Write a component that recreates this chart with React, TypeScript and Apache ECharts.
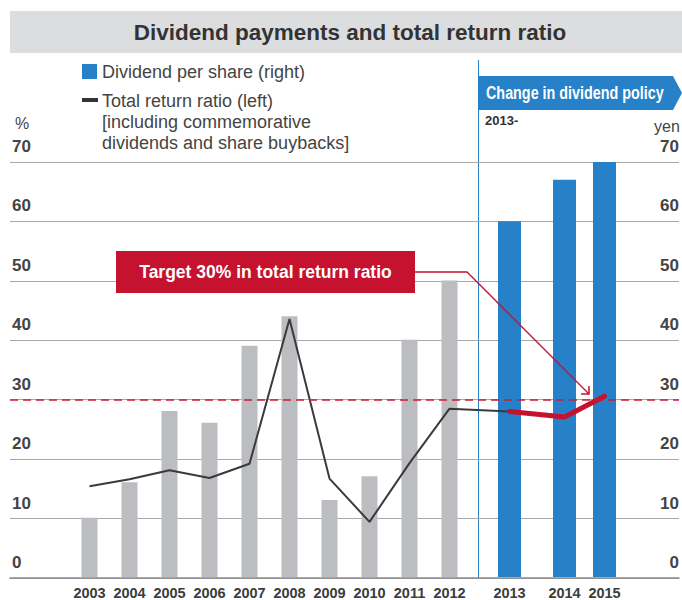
import React, { useEffect, useRef } from 'react';
import * as echarts from 'echarts';

// ---- data ----
const years = ['2003', '2004', '2005', '2006', '2007', '2008', '2009', '2010', '2011', '2012', '2013', '2014', '2015'];
// Dividend per share, yen (right axis)
const dividendPerShare = [10, 16, 28, 26, 39, 44, 13, 17, 40, 50, 60, 67, 70];
// Total return ratio, % (left axis)
const totalReturnRatio = [15.3, 16.5, 18, 16.7, 19.1, 43.5, 16.6, 9.3, 19.2, 28.4, 27.9, 27.0, 30.5];
const policyChangeIndex = 10; // 2013-
const axisTicks = [0, 10, 20, 30, 40, 50, 60, 70];
const targetRatio = 30;

// ---- layout: the year axis is made of fine slots; steps between consecutive years ----
const SLOT_STEPS = [8, 8, 8, 8, 8, 8, 8, 8, 8, 12, 11, 8];

const FONT = '"Liberation Sans", Arial, Helvetica, sans-serif';
const BLUE = '#2681c8';
const RED = '#c4122f';
const GRAY_BAR = '#bcbdc0';
const TEXT = '#3c3c3c';

export default function App() {
  const ref = useRef<HTMLDivElement>(null);

  useEffect(() => {
    if (!ref.current) return;
    const chart = echarts.init(ref.current, undefined, { renderer: 'svg' });

    const slotOf: number[] = [0];
    SLOT_STEPS.forEach((s, i) => slotOf.push(slotOf[i] + s));
    const slotCount = slotOf[slotOf.length - 1] + 1;
    const categories: string[] = Array.from({ length: slotCount }, () => '');
    years.forEach((y, i) => { categories[slotOf[i]] = y; });
    const spread = (pick: (i: number) => boolean, vals: number[]) => {
      const arr: (number | null)[] = Array.from({ length: slotCount }, () => null);
      vals.forEach((v, i) => { if (pick(i)) arr[slotOf[i]] = v; });
      return arr;
    };

    const yMin = axisTicks[0];
    const yMax = axisTicks[axisTicks.length - 1];
    const yInterval = axisTicks[1] - axisTicks[0];

    const tickLabel = {
      fontFamily: FONT,
      fontWeight: 'bold',
      fontSize: 17,
      color: '#444',
      verticalAlign: 'bottom',
      padding: [0, 0, 7, 0],
    };

    chart.setOption({
      animation: false,
      grid: [
        { left: 10, right: 0, top: 162, bottom: 22 },
        { left: 87, width: 520, top: 162, bottom: 22 },
      ],
      xAxis: [
        {
          gridIndex: 0, type: 'value', min: 0, max: 1,
          axisLine: { show: true, lineStyle: { color: '#8a8a8a', width: 1.5 } },
          axisTick: { show: false }, axisLabel: { show: false }, splitLine: { show: false },
        },
        {
          gridIndex: 1, type: 'category', data: categories,
          axisLine: { show: false }, axisTick: { show: false },
          axisLabel: { interval: 0, margin: 8, fontFamily: FONT, fontWeight: 'bold', fontSize: 14.5, color: TEXT },
        },
        { gridIndex: 1, type: 'category', data: categories, show: false },
      ],
      yAxis: [
        {
          gridIndex: 0, type: 'value', min: yMin, max: yMax, interval: yInterval, position: 'left',
          axisLine: { show: false }, axisTick: { show: false },
          splitLine: { lineStyle: { color: '#a8a8a8', width: 1 } },
          axisLabel: { ...tickLabel, inside: true, margin: 2 },
        },
        {
          gridIndex: 0, type: 'value', min: yMin, max: yMax, interval: yInterval, position: 'right',
          axisLine: { show: false }, axisTick: { show: false }, splitLine: { show: false },
          axisLabel: { ...tickLabel, inside: true, margin: 0, align: 'right' },
        },
        { gridIndex: 1, type: 'value', min: yMin, max: yMax, show: false },
        { gridIndex: 1, type: 'value', min: yMin, max: yMax, show: false },
      ],
      series: [
        {
          name: 'Dividend per share (right)', type: 'bar', xAxisIndex: 1, yAxisIndex: 2, barWidth: 16, clip: false,
          data: spread((i) => i < policyChangeIndex, dividendPerShare),
          itemStyle: { color: GRAY_BAR },
        },
        {
          name: 'Dividend per share (right) 2013-', type: 'bar', xAxisIndex: 2, yAxisIndex: 2, barWidth: 23, clip: false,
          data: spread((i) => i >= policyChangeIndex, dividendPerShare),
          itemStyle: { color: BLUE },
        },
        {
          name: 'Total return ratio (left)', type: 'line', xAxisIndex: 1, yAxisIndex: 3, clip: false,
          data: spread((i) => i <= policyChangeIndex, totalReturnRatio),
          connectNulls: true, symbol: 'none', z: 3,
          lineStyle: { color: '#3a3a3a', width: 2 },
        },
        {
          name: 'Total return ratio (left) 2013-', type: 'line', xAxisIndex: 1, yAxisIndex: 3, clip: false,
          data: spread((i) => i >= policyChangeIndex, totalReturnRatio),
          connectNulls: true, symbol: 'none', z: 4,
          lineStyle: { color: RED, width: 5, cap: 'round', join: 'round' },
        },
        {
          name: 'Target', type: 'line', xAxisIndex: 0, yAxisIndex: 0, data: [],
          markLine: {
            silent: true, symbol: 'none', label: { show: false }, z: 5,
            lineStyle: { color: '#cc1a3a', type: [8, 5], width: 1.5 },
            data: [{ yAxis: targetRatio }],
          },
        },
      ],
      graphic: [
        { type: 'rect', shape: { x: 10, y: 11, width: 672, height: 42 }, style: { fill: '#dcdddf' } },
        {
          type: 'text', x: 350, y: 32,
          style: { text: 'Dividend payments and total return ratio', fontFamily: FONT, fontWeight: 'bold', fontSize: 22.5, fill: '#333', align: 'center', verticalAlign: 'middle' },
        },
        { type: 'rect', shape: { x: 82, y: 64, width: 15, height: 15 }, style: { fill: BLUE } },
        {
          type: 'text', x: 102, y: 72,
          style: { text: 'Dividend per share (right)', fontFamily: FONT, fontSize: 18, fill: '#444', verticalAlign: 'middle' },
        },
        { type: 'rect', shape: { x: 82, y: 98, width: 16, height: 4 }, style: { fill: '#333' } },
        {
          type: 'text', x: 102, y: 90,
          style: {
            text: 'Total return ratio (left)\n[including commemorative\ndividends and share buybacks]',
            fontFamily: FONT, fontSize: 18, lineHeight: 21, fill: '#444', verticalAlign: 'top',
          },
        },
        { type: 'text', x: 15, y: 123, style: { text: '%', fontFamily: FONT, fontSize: 16, fill: '#444', verticalAlign: 'middle' } },
        { type: 'text', x: 654, y: 126, style: { text: 'yen', fontFamily: FONT, fontSize: 16, fill: '#444', verticalAlign: 'middle' } },
        { type: 'line', shape: { x1: 478.5, y1: 60, x2: 478.5, y2: 578 }, style: { stroke: BLUE, lineWidth: 1 } },
        {
          type: 'polygon', shape: { points: [[478, 76], [673, 76], [682, 93], [673, 110], [478, 110]] },
          style: { fill: BLUE },
        },
        {
          type: 'text', x: 486, y: 93, scaleX: 0.82,
          style: { text: 'Change in dividend policy', fontFamily: FONT, fontWeight: 'bold', fontSize: 17.5, fill: '#fff', verticalAlign: 'middle' },
        },
        { type: 'text', x: 485, y: 120, style: { text: '2013-', fontFamily: FONT, fontWeight: 'bold', fontSize: 13, fill: '#333', verticalAlign: 'middle' } },
        { type: 'rect', z: 10, shape: { x: 116, y: 251, width: 299, height: 42 }, style: { fill: RED } },
        {
          type: 'text', z: 11, x: 265.5, y: 272,
          style: { text: 'Target 30% in total return ratio', fontFamily: FONT, fontWeight: 'bold', fontSize: 17.5, fill: '#fff', align: 'center', verticalAlign: 'middle' },
        },
        {
          type: 'polyline', z: 10, shape: { points: [[415, 272], [467, 272], [589, 394]] },
          style: { stroke: RED, lineWidth: 1.3, fill: 'none' },
        },
        {
          type: 'polyline', z: 10, shape: { points: [[589, 386], [589, 394], [581, 394]] },
          style: { stroke: RED, lineWidth: 1.5, fill: 'none' },
        },
      ],
    });

    return () => chart.dispose();
  }, []);

  return <div ref={ref} style={{ position: 'absolute', left: 0, top: 0, width: 682, height: 600 }} />;
}
